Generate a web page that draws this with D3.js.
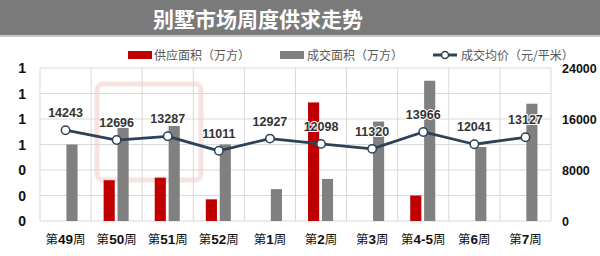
<!DOCTYPE html>
<html><head><meta charset="utf-8">
<script src="https://cdn.jsdelivr.net/npm/d3@7"></script>
<style>
html,body{margin:0;padding:0;background:#fff;}
svg{display:block;}
</style></head>
<body>
<svg id="c" width="600" height="256"></svg>
<script>
const title = "别墅市场周度供求走势";
const categories = ["第49周","第50周","第51周","第52周","第1周","第2周","第3周","第4-5周","第6周","第7周"];
const supplyArea = [0, 0.32, 0.34, 0.17, 0, 0.93, 0, 0.20, 0, 0];
const dealArea   = [0.60, 0.73, 0.745, 0.60, 0.25, 0.33, 0.78, 1.10, 0.58, 0.92];
const avgPrice   = [14243, 12696, 13287, 11011, 12927, 12098, 11320, 13966, 12041, 13127];
const leftTicks  = [0, 0.2, 0.4, 0.6, 0.8, 1.0, 1.2];
const rightTicks = [0, 8000, 16000, 24000];
const seriesNames = ["供应面积（万方）","成交面积（万方）","成交均价（元/平米）"];

const RED = "#c00000", GRAY = "#808080", NAVY = "#2b4258";
const NUM = "'Liberation Sans Narrow','Arial Narrow','Liberation Sans',sans-serif";
const CJK = "'Noto Sans CJK SC','Noto Sans',sans-serif";

const svg = d3.select("#c");
const L = 40, R = 551, T = 68, B = 221;

// title bar
svg.append("rect").attr("x",0).attr("y",0).attr("width",600).attr("height",35).attr("fill","#7a7a7a");
svg.append("rect").attr("x",0).attr("y",35).attr("width",600).attr("height",2).attr("fill","#c8c8c8");
svg.append("text").attr("x",258).attr("y",27).attr("text-anchor","middle")
  .attr("font-family",CJK).attr("font-weight","bold").attr("font-size",21).attr("fill","#fff").text(title);

const x = d3.scaleBand().domain(categories).range([L,R]).paddingInner(0).paddingOuter(0);
const bw = x.bandwidth();
const xs = d3.scaleBand().domain(["s","d"]).range([bw*0.245, bw*0.735]).paddingInner(0.2);
const yL = d3.scaleLinear().domain([0,1.2]).range([B,T]);
const yR = d3.scaleLinear().domain([0,24000]).range([B,T]);

// watermark (faint shape only)
const wm = svg.append("g").attr("opacity",0.3);
wm.append("rect").attr("x",97).attr("y",84).attr("width",104).attr("height",96).attr("rx",6)
  .attr("fill","none").attr("stroke","#e8a0a0").attr("stroke-width",5);

// grid
const g = svg.append("g");
g.selectAll("line.h").data(leftTicks).join("line").attr("class","h")
  .attr("x1",L).attr("x2",R).attr("y1",d=>yL(d)).attr("y2",d=>yL(d))
  .attr("stroke","#d9d9d9").attr("stroke-width",1);
const edges = categories.map(c=>x(c)).concat([R]);
g.selectAll("line.v").data(edges).join("line").attr("class","v")
  .attr("x1",d=>d).attr("x2",d=>d).attr("y1",T).attr("y2",B)
  .attr("stroke","#d9d9d9").attr("stroke-width",1);

// bars
svg.append("g").selectAll("rect").data(categories).join("rect")
  .attr("x",(c)=>x(c)+xs("s")).attr("width",xs.bandwidth())
  .attr("y",(c,i)=>yL(supplyArea[i])).attr("height",(c,i)=>B-yL(supplyArea[i]))
  .attr("fill",RED);
svg.append("g").selectAll("rect").data(categories).join("rect")
  .attr("x",(c)=>x(c)+xs("d")).attr("width",xs.bandwidth())
  .attr("y",(c,i)=>yL(dealArea[i])).attr("height",(c,i)=>B-yL(dealArea[i]))
  .attr("fill",GRAY);

// line
const cx = c => x(c)+bw/2;
const line = d3.line().x((d,i)=>cx(categories[i])).y(d=>yR(d));
svg.append("path").datum(avgPrice).attr("d",line).attr("fill","none")
  .attr("stroke",NAVY).attr("stroke-width",2.8).attr("stroke-linejoin","round");
svg.append("g").selectAll("circle").data(avgPrice).join("circle")
  .attr("cx",(d,i)=>cx(categories[i])).attr("cy",d=>yR(d)).attr("r",4.2)
  .attr("fill","#fff").attr("stroke",NAVY).attr("stroke-width",1.5);
svg.append("g").selectAll("text").data(avgPrice).join("text")
  .attr("x",(d,i)=>cx(categories[i])).attr("y",d=>yR(d)-13).attr("text-anchor","middle")
  .attr("font-family",NUM).attr("font-weight","bold").attr("font-size",12.5).attr("fill","#333")
  .attr("stroke","#fff").attr("stroke-width",2).attr("paint-order","stroke")
  .text(d=>d);

// left axis
const fmtL = d3.format(".0f");
svg.append("g").selectAll("text").data(leftTicks).join("text")
  .attr("x",26).attr("y",d=>yL(d)+5).attr("text-anchor","end")
  .attr("font-family",NUM).attr("font-weight","bold").attr("font-size",14).attr("fill","#111")
  .text(d=>fmtL(d));
// right axis
svg.append("g").selectAll("text").data(rightTicks).join("text")
  .attr("x",562).attr("y",d=>yR(d)+4.5).attr("text-anchor","start")
  .attr("font-family",NUM).attr("font-weight","bold").attr("font-size",12.5).attr("fill","#111")
  .text(d=>d);

// category labels
const cl = svg.append("g").selectAll("text").data(categories).join("text")
  .attr("x",c=>cx(c)).attr("y",244).attr("text-anchor","middle")
  .attr("font-family",CJK).attr("font-size",12.5).attr("fill","#111");
cl.each(function(c){
  const m = c.match(/^(第)(.*)(周)$/);
  const t = d3.select(this);
  t.append("tspan").text(m[1]);
  t.append("tspan").attr("font-family",NUM).attr("font-weight","bold").attr("font-size",13.5).text(m[2]);
  t.append("tspan").text(m[3]);
});

// legend
const lg = svg.append("g").attr("font-family",CJK).attr("font-size",12).attr("fill","#595959");
lg.append("rect").attr("x",128).attr("y",51).attr("width",24).attr("height",8).attr("fill",RED);
lg.append("text").attr("x",154).attr("y",59.5).text(seriesNames[0]);
lg.append("rect").attr("x",280).attr("y",51).attr("width",24).attr("height",8).attr("fill",GRAY);
lg.append("text").attr("x",307).attr("y",59.5).text(seriesNames[1]);
lg.append("line").attr("x1",433).attr("x2",457).attr("y1",55).attr("y2",55).attr("stroke",NAVY).attr("stroke-width",3);
lg.append("circle").attr("cx",445).attr("cy",55).attr("r",3.5).attr("fill","#fff").attr("stroke",NAVY).attr("stroke-width",1.5);
lg.append("text").attr("x",461).attr("y",59.5).text(seriesNames[2]);
</script>
</body></html>
